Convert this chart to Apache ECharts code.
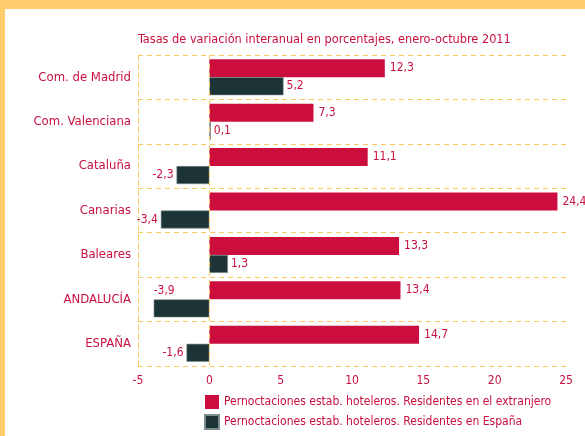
<!DOCTYPE html>
<html><head><meta charset="utf-8">
<script src="https://cdn.jsdelivr.net/npm/echarts@6/dist/echarts.min.js"></script>
<style>
html,body{margin:0;padding:0;background:#ffcc6e;width:585px;height:436px;overflow:hidden;}
#c{position:absolute;left:5px;top:9px;width:580px;height:427px;background:#fff;}
</style></head>
<body><div id="c"></div>
<script>
const categories = ['Com. de Madrid','Com. Valenciana','Cataluña','Canarias','Baleares','ANDALUCÍA','ESPAÑA'];
const extranjero = [12.3, 7.3, 11.1, 24.4, 13.3, 13.4, 14.7];
const espana = [5.2, 0.1, -2.3, -3.4, 1.3, -3.9, -1.6];
const seriesNames = ['Pernoctaciones estab. hoteleros. Residentes en el extranjero','Pernoctaciones estab. hoteleros. Residentes en España'];
const titleText = 'Tasas de variación interanual en porcentajes, enero-octubre 2011';

const RED = '#cc0e3f', DARK = '#1c3436', TXT = '#c8103f', GRID = '#fbc95c';
const FONT = '"Liberation Sans Narrow","DejaVu Sans Condensed",sans-serif';
const fmt = v => String(v).replace('.', ',');

const chart = echarts.init(document.getElementById('c'));
chart.setOption({
  animation:false,
  textStyle:{fontFamily:FONT},
  title:{text:titleText,left:128,top:24,padding:[0,5],textStyle:{color:TXT,fontSize:12.6,fontWeight:'normal',fontFamily:FONT}},
  legend:{orient:'vertical',left:199,top:386,padding:0,itemWidth:14,itemHeight:14,itemGap:5,icon:'rect',
    textStyle:{color:TXT,fontSize:12,fontFamily:FONT}},
  grid:{left:133,right:19,top:46,bottom:70},
  xAxis:{type:'value',min:-5,max:25,interval:5,
    axisLine:{show:false},axisTick:{show:false},splitLine:{show:false},
    axisLabel:{color:TXT,fontSize:12,margin:9,fontFamily:FONT}},
  yAxis:{type:'category',data:categories,inverse:true,
    axisLine:{show:true,onZero:false,lineStyle:{color:GRID,type:[5,4],width:1}},
    axisTick:{show:false},
    splitLine:{show:true,lineStyle:{color:GRID,type:[5,4],width:1}},
    axisLabel:{color:TXT,fontSize:13,margin:7,fontFamily:FONT}},
  series:[
    {name:seriesNames[0],type:'bar',barWidth:18,barGap:'0%',itemStyle:{color:RED},
     data:extranjero,
     label:{show:true,position:'right',distance:5,color:TXT,fontSize:12,fontFamily:FONT,formatter:p=>fmt(p.value)},
     markLine:{silent:true,symbol:'none',label:{show:false},
       lineStyle:{color:GRID,type:[5,4],width:1},data:[{xAxis:0}]}},
    {name:seriesNames[1],type:'bar',barWidth:18,barGap:'0%',
     itemStyle:{color:DARK,borderColor:'#7d8c8c',borderWidth:0.6},
     data:espana.map((v,i)=>({value:v,label:{position:v<0?'left':'right',
        offset:categories[i]==='ANDALUCÍA'?[24,-17]:[0,0]}})),
     label:{show:true,distance:3,color:TXT,fontSize:12,fontFamily:FONT,formatter:p=>fmt(p.value)}}
  ]
});
</script></body></html>
